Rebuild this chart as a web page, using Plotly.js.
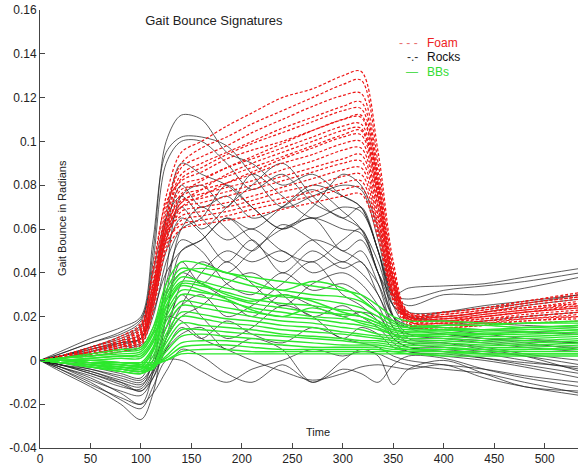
<!DOCTYPE html>
<html>
<head>
<meta charset="utf-8">
<script src="https://cdn.plot.ly/plotly-3.0.1.min.js"></script>
<style>html,body{margin:0;padding:0;background:#fff}#chart{width:578px;height:466px}</style>
</head>
<body>
<div id="chart"></div>
<script>
// Sample times (x) shared by every curve
const timeSteps = [0,20,50,80,100,112,125,140,160,185,210,240,270,300,318,335,350,365,400,440,480,535];

// Foam (red dashed)
const foamCurves = [
 [0,0.002,0.006,0.010,0.016,0.040,0.075,0.095,0.100,0.107,0.113,0.120,0.124,0.130,0.132,0.095,0.045,0.022,0.020,0.022,0.024,0.026],
 [0,0.002,0.005,0.009,0.014,0.035,0.070,0.090,0.097,0.102,0.108,0.114,0.120,0.126,0.128,0.090,0.042,0.020,0.019,0.021,0.023,0.025],
 [0,0.001,0.004,0.008,0.012,0.032,0.068,0.088,0.093,0.098,0.104,0.110,0.116,0.121,0.122,0.086,0.040,0.021,0.020,0.022,0.025,0.028],
 [0,0.001,0.004,0.007,0.011,0.030,0.065,0.085,0.090,0.095,0.100,0.106,0.111,0.116,0.118,0.083,0.038,0.020,0.018,0.020,0.022,0.024],
 [0,0.002,0.006,0.011,0.017,0.042,0.072,0.082,0.086,0.092,0.096,0.100,0.105,0.110,0.112,0.080,0.037,0.022,0.022,0.024,0.027,0.030],
 [0,0.001,0.003,0.006,0.010,0.028,0.062,0.080,0.083,0.088,0.092,0.097,0.102,0.107,0.108,0.077,0.036,0.019,0.017,0.018,0.020,0.022],
 [0,0.001,0.004,0.008,0.013,0.033,0.063,0.078,0.080,0.084,0.088,0.093,0.098,0.103,0.105,0.075,0.035,0.021,0.021,0.023,0.026,0.029],
 [0,0.001,0.003,0.006,0.009,0.026,0.058,0.075,0.078,0.081,0.085,0.090,0.094,0.099,0.100,0.072,0.034,0.018,0.016,0.017,0.019,0.020],
 [0,0.002,0.005,0.009,0.014,0.036,0.062,0.073,0.076,0.079,0.082,0.087,0.091,0.096,0.097,0.070,0.033,0.020,0.020,0.022,0.024,0.027],
 [0,0.001,0.003,0.005,0.008,0.024,0.056,0.072,0.074,0.077,0.080,0.084,0.088,0.092,0.094,0.068,0.032,0.017,0.015,0.016,0.018,0.019],
 [0,0.001,0.004,0.007,0.012,0.031,0.060,0.070,0.072,0.075,0.078,0.082,0.086,0.090,0.091,0.066,0.031,0.019,0.019,0.021,0.023,0.026],
 [0,0.001,0.003,0.006,0.010,0.027,0.055,0.068,0.070,0.072,0.075,0.079,0.083,0.087,0.088,0.064,0.030,0.018,0.017,0.019,0.020,0.022],
 [0,0.002,0.005,0.009,0.015,0.034,0.058,0.066,0.068,0.070,0.073,0.077,0.080,0.084,0.085,0.062,0.030,0.020,0.021,0.023,0.026,0.029],
 [0,0.001,0.003,0.005,0.009,0.025,0.052,0.064,0.066,0.068,0.071,0.074,0.077,0.081,0.082,0.060,0.029,0.017,0.016,0.017,0.018,0.020],
 [0,0.001,0.004,0.007,0.011,0.029,0.054,0.062,0.064,0.066,0.069,0.072,0.075,0.078,0.079,0.058,0.028,0.019,0.018,0.020,0.022,0.024],
 [0,0.001,0.002,0.004,0.007,0.022,0.050,0.060,0.062,0.064,0.066,0.069,0.072,0.075,0.076,0.056,0.027,0.016,0.015,0.016,0.017,0.018],
 [0,0.002,0.004,0.008,0.013,0.032,0.055,0.070,0.075,0.081,0.086,0.092,0.097,0.102,0.103,0.074,0.035,0.021,0.022,0.024,0.027,0.031],
 [0,0.001,0.003,0.006,0.010,0.028,0.060,0.076,0.082,0.088,0.093,0.099,0.105,0.110,0.111,0.079,0.037,0.019,0.018,0.019,0.021,0.023],
 [0,0.001,0.004,0.007,0.011,0.030,0.064,0.083,0.088,0.094,0.099,0.104,0.109,0.114,0.115,0.082,0.038,0.020,0.019,0.020,0.022,0.025],
 [0,0.001,0.003,0.006,0.010,0.027,0.058,0.072,0.078,0.085,0.090,0.095,0.100,0.105,0.106,0.076,0.036,0.018,0.017,0.018,0.019,0.021]
];

// Rocks (black)
const rocksCurves = [
 [0,0.003,0.008,0.012,0.018,0.050,0.100,0.112,0.110,0.095,0.090,0.080,0.085,0.075,0.070,0.050,0.030,0.025,0.030,0.030,0.033,0.038],
 [0,0.004,0.010,0.015,0.020,0.055,0.095,0.102,0.102,0.098,0.085,0.070,0.075,0.080,0.078,0.055,0.030,0.028,0.032,0.034,0.036,0.040],
 [0,0.002,0.006,0.010,0.015,0.045,0.090,0.100,0.100,0.090,0.078,0.085,0.072,0.065,0.060,0.045,0.025,0.020,0.022,0.025,0.027,0.030],
 [0,-0.003,-0.008,-0.015,-0.020,-0.005,0.040,0.075,0.080,0.070,0.085,0.075,0.065,0.070,0.068,0.050,0.020,0.010,0.008,0.005,0.002,-0.005],
 [0,-0.005,-0.012,-0.020,-0.027,-0.015,0.020,0.050,0.055,0.065,0.060,0.070,0.080,0.075,0.070,0.050,0.025,0.015,0.012,0.010,0.008,0.005],
 [0,-0.004,-0.010,-0.018,-0.022,-0.012,0.000,0.000,-0.005,-0.010,-0.004,0.000,0.005,0.002,0.004,0.003,0.000,-0.002,-0.004,-0.006,-0.010,-0.015],
 [0,0.003,0.008,0.013,0.019,0.040,0.065,0.075,0.065,0.055,0.060,0.050,0.045,0.055,0.060,0.040,0.030,0.033,0.034,0.035,0.038,0.042],
 [0,-0.002,-0.006,-0.010,-0.012,0.000,0.030,0.060,0.070,0.060,0.050,0.062,0.055,0.045,0.050,0.035,0.015,0.008,0.006,0.004,0.002,-0.002],
 [0,-0.003,-0.009,-0.014,-0.016,-0.008,0.010,0.035,0.045,0.040,0.050,0.060,0.065,0.060,0.058,0.040,0.020,0.012,0.010,0.008,0.006,0.004],
 [0,0.002,0.005,0.009,0.012,0.030,0.060,0.080,0.070,0.075,0.065,0.070,0.078,0.068,0.060,0.040,0.020,0.015,0.016,0.018,0.020,0.022],
 [0,-0.002,-0.004,-0.008,-0.010,-0.002,0.015,0.030,0.020,0.010,0.015,0.025,0.020,0.010,0.015,0.012,0.006,0.004,0.002,0.000,-0.003,-0.008],
 [0,-0.004,-0.011,-0.017,-0.020,-0.015,-0.005,0.005,0.002,-0.006,-0.010,-0.002,-0.010,-0.004,-0.006,-0.010,-0.002,0.002,0.001,-0.004,-0.008,-0.012],
 [0,0.001,0.004,0.008,0.010,0.025,0.050,0.065,0.058,0.045,0.055,0.040,0.050,0.042,0.045,0.030,0.018,0.015,0.014,0.012,0.010,0.008],
 [0,-0.001,-0.003,-0.006,-0.008,0.005,0.035,0.055,0.050,0.035,0.030,0.040,0.032,0.035,0.030,0.022,0.010,0.006,0.004,0.001,-0.002,-0.006],
 [0,-0.003,-0.007,-0.012,-0.013,-0.004,0.020,0.045,0.035,0.045,0.035,0.025,0.035,0.040,0.035,0.025,0.012,0.008,0.008,0.006,0.003,0.000],
 [0,0.001,0.003,0.006,0.008,0.020,0.045,0.060,0.065,0.080,0.070,0.060,0.070,0.085,0.080,0.060,0.030,0.020,0.020,0.022,0.025,0.028],
 [0,0.000,-0.002,-0.004,-0.005,0.000,0.015,0.025,0.030,0.020,0.025,0.035,0.045,0.030,0.025,0.018,0.010,0.006,0.005,0.003,0.000,-0.004],
 [0,-0.002,-0.005,-0.009,-0.011,-0.005,0.005,0.012,0.015,0.005,0.010,0.005,-0.010,0.000,0.005,0.002,-0.011,-0.004,0.000,-0.006,-0.012,-0.014],
 [0,0.002,0.005,0.008,0.010,0.022,0.040,0.050,0.055,0.065,0.055,0.045,0.055,0.050,0.045,0.035,0.020,0.016,0.015,0.014,0.013,0.012],
 [0,0.002,0.006,0.011,0.016,0.035,0.065,0.090,0.085,0.080,0.070,0.060,0.065,0.050,0.055,0.040,0.025,0.020,0.018,0.017,0.016,0.015],
 [0,-0.001,-0.004,-0.007,-0.009,-0.002,0.010,0.020,0.025,0.035,0.040,0.030,0.020,0.025,0.020,0.015,0.008,0.004,0.003,0.001,-0.001,-0.003],
 [0,0.001,0.002,0.004,0.006,0.015,0.030,0.040,0.035,0.028,0.020,0.030,0.025,0.020,0.022,0.020,0.012,0.010,0.010,0.009,0.007,0.006],
 [0,-0.002,-0.006,-0.011,-0.014,-0.008,0.005,0.015,0.010,0.018,0.012,0.008,0.015,0.010,0.008,0.006,0.002,0.000,-0.002,-0.004,-0.007,-0.010],
 [0,0.002,0.004,0.007,0.010,0.028,0.055,0.070,0.060,0.070,0.080,0.090,0.075,0.065,0.070,0.050,0.028,0.022,0.022,0.024,0.026,0.030],
 [0,-0.002,-0.005,-0.010,-0.014,-0.006,0.010,0.025,0.040,0.050,0.045,0.050,0.040,0.045,0.040,0.030,0.015,0.012,0.012,0.010,0.009,0.008],
 [0,0.001,0.003,0.005,0.007,0.012,0.020,0.018,0.010,0.005,0.000,-0.005,-0.009,-0.006,-0.003,-0.002,-0.003,-0.004,-0.002,-0.008,-0.012,-0.016]
];

// BBs (green)
const bbCurves = [
 [0,0.001,0.003,0.005,0.006,0.015,0.035,0.045,0.044,0.040,0.038,0.036,0.034,0.032,0.030,0.025,0.020,0.018,0.018,0.017,0.017,0.018],
 [0,0.001,0.002,0.004,0.005,0.013,0.032,0.042,0.040,0.037,0.034,0.032,0.030,0.029,0.027,0.022,0.018,0.016,0.016,0.016,0.015,0.016],
 [0,0.000,0.001,0.002,0.003,0.010,0.028,0.038,0.036,0.033,0.031,0.029,0.028,0.026,0.024,0.020,0.016,0.015,0.015,0.014,0.014,0.015],
 [0,0.000,0.000,0.001,0.001,0.008,0.025,0.035,0.034,0.031,0.028,0.026,0.025,0.023,0.022,0.018,0.015,0.014,0.014,0.013,0.013,0.014],
 [0,0.000,-0.001,-0.001,-0.001,0.006,0.022,0.032,0.031,0.029,0.026,0.024,0.022,0.021,0.020,0.017,0.014,0.013,0.013,0.012,0.012,0.013],
 [0,-0.001,-0.002,-0.003,-0.003,0.004,0.020,0.030,0.029,0.027,0.024,0.022,0.020,0.019,0.018,0.016,0.013,0.012,0.012,0.011,0.011,0.012],
 [0,-0.001,-0.002,-0.003,-0.004,0.002,0.018,0.027,0.026,0.024,0.022,0.020,0.019,0.017,0.016,0.014,0.012,0.011,0.011,0.010,0.010,0.011],
 [0,-0.001,-0.003,-0.004,-0.005,0.000,0.015,0.025,0.024,0.022,0.020,0.018,0.017,0.015,0.014,0.012,0.011,0.010,0.010,0.009,0.009,0.010],
 [0,-0.001,-0.003,-0.005,-0.006,-0.002,0.012,0.022,0.021,0.019,0.018,0.016,0.015,0.013,0.012,0.011,0.010,0.009,0.009,0.008,0.008,0.009],
 [0,-0.001,-0.003,-0.005,-0.006,-0.003,0.010,0.020,0.019,0.017,0.016,0.014,0.013,0.012,0.011,0.010,0.009,0.008,0.008,0.007,0.007,0.008],
 [0,-0.001,-0.002,-0.004,-0.005,-0.003,0.008,0.017,0.016,0.015,0.014,0.012,0.011,0.010,0.009,0.009,0.008,0.007,0.007,0.006,0.006,0.007],
 [0,-0.001,-0.002,-0.004,-0.005,-0.004,0.006,0.014,0.014,0.013,0.012,0.011,0.010,0.009,0.008,0.008,0.007,0.006,0.006,0.005,0.005,0.006],
 [0,0.000,-0.001,-0.003,-0.004,-0.003,0.004,0.011,0.012,0.011,0.010,0.009,0.008,0.007,0.007,0.007,0.006,0.005,0.005,0.005,0.005,0.005],
 [0,0.000,-0.001,-0.002,-0.003,-0.003,0.002,0.008,0.009,0.009,0.008,0.007,0.006,0.006,0.006,0.006,0.005,0.005,0.004,0.004,0.004,0.004],
 [0,0.000,-0.001,-0.002,-0.003,-0.002,0.001,0.006,0.007,0.007,0.006,0.005,0.005,0.005,0.005,0.005,0.004,0.004,0.004,0.003,0.003,0.003],
 [0,0.000,0.000,-0.001,-0.002,-0.002,0.000,0.004,0.005,0.005,0.004,0.004,0.004,0.004,0.004,0.004,0.004,0.003,0.003,0.003,0.003,0.003],
 [0,0.000,0.000,-0.001,-0.001,-0.001,0.000,0.003,0.003,0.003,0.003,0.003,0.003,0.003,0.003,0.003,0.003,0.003,0.002,0.002,0.002,0.002],
 [0,0.001,0.002,0.003,0.004,0.012,0.030,0.040,0.042,0.040,0.036,0.032,0.036,0.033,0.028,0.022,0.017,0.015,0.016,0.016,0.017,0.017],
 [0,0.000,0.001,0.002,0.002,0.009,0.027,0.036,0.035,0.030,0.027,0.030,0.027,0.022,0.020,0.017,0.014,0.013,0.014,0.014,0.015,0.016],
 [0,0.000,-0.001,-0.002,-0.002,0.005,0.024,0.034,0.032,0.028,0.023,0.020,0.024,0.020,0.017,0.015,0.012,0.011,0.012,0.012,0.013,0.014]
];

const seriesNames = ['Foam','Rocks','BBs'];
const legendMarks = ['- - -','-.-','—'];
const yTickVals = [-0.04,-0.02,0,0.02,0.04,0.06,0.08,0.1,0.12,0.14,0.16];
const yTickText = ['-0.04','-0.02','0','0.02','0.04','0.06','0.08','0.1','0.12','0.14','0.16'];
const xTickVals = [0,50,100,150,200,250,300,350,400,450,500];

const RED = 'rgb(238,22,22)', BLACK = 'rgba(30,30,30,0.72)', GREEN = 'rgb(45,232,45)';
const traces = [];
function addGroup(curves, name, color, dash, width) {
  curves.forEach(function (ys) {
    traces.push({x: timeSteps, y: ys, type: 'scatter', mode: 'lines', name: name, legendgroup: name,
      showlegend: false, hoverinfo: 'skip',
      line: {color: color, width: width, dash: dash, shape: 'spline', smoothing: 0.9}});
  });
}
addGroup(rocksCurves, seriesNames[1], BLACK, 'solid', 1);
addGroup(foamCurves, seriesNames[0], RED, '3px,2px', 1.2);
addGroup(bbCurves, seriesNames[2], GREEN, 'solid', 1.4);

const FONT = 'Liberation Sans, Arial, sans-serif';
const legendColors = [['#e87070', '#ee2222'], ['#333', '#111'], ['#55dd55', '#33dd33']];
const legendY = [0.925, 0.893, 0.859];
const annotations = [
  {text: 'Gait Bounce in Radians', xref: 'paper', yref: 'paper', x: 0.041, y: 0.525, textangle: -90,
    showarrow: false, font: {family: FONT, size: 11, color: '#222'}, xanchor: 'center', yanchor: 'middle'},
  {text: 'Time', xref: 'paper', yref: 'paper', x: 0.517, y: 0.037, showarrow: false,
    font: {family: FONT, size: 11, color: '#222'}, xanchor: 'center', yanchor: 'middle'}
];
seriesNames.forEach(function (n, i) {
  annotations.push({xref: 'paper', yref: 'paper', x: 0.706, y: legendY[i], xanchor: 'right', yanchor: 'middle',
    showarrow: false, font: {family: FONT, size: 12, color: legendColors[i][0]}, text: legendMarks[i]});
  annotations.push({xref: 'paper', yref: 'paper', x: 0.716, y: legendY[i], xanchor: 'left', yanchor: 'middle',
    showarrow: false, font: {family: FONT, size: 12, color: legendColors[i][1]}, text: n});
});

const layout = {
  width: 578, height: 466,
  margin: {l: 40, r: 0, t: 10, b: 18, pad: 0},
  paper_bgcolor: '#fff', plot_bgcolor: '#fff',
  font: {family: FONT, size: 12, color: '#222'},
  showlegend: false,
  title: {text: 'Gait Bounce Signatures', font: {family: FONT, size: 13, color: '#222'},
    x: 0.37, xref: 'container', xanchor: 'center', y: 0.957, yref: 'container', yanchor: 'middle'},
  xaxis: {range: [0, 533], tickvals: xTickVals, ticks: 'inside', ticklen: 5, tickcolor: '#444',
    showline: true, linecolor: '#444', linewidth: 1, showgrid: false, zeroline: false,
    tickfont: {size: 12, color: '#222'}, title: {text: ''}},
  yaxis: {range: [-0.04, 0.16], tickvals: yTickVals, ticktext: yTickText, ticks: 'inside', ticklen: 5,
    tickcolor: '#444', showline: true, linecolor: '#444', linewidth: 1, showgrid: false, zeroline: false,
    tickfont: {size: 12, color: '#222'}, title: {text: ''}},
  annotations: annotations
};
Plotly.newPlot('chart', traces, layout, {displayModeBar: false, staticPlot: true});
</script>
</body>
</html>
